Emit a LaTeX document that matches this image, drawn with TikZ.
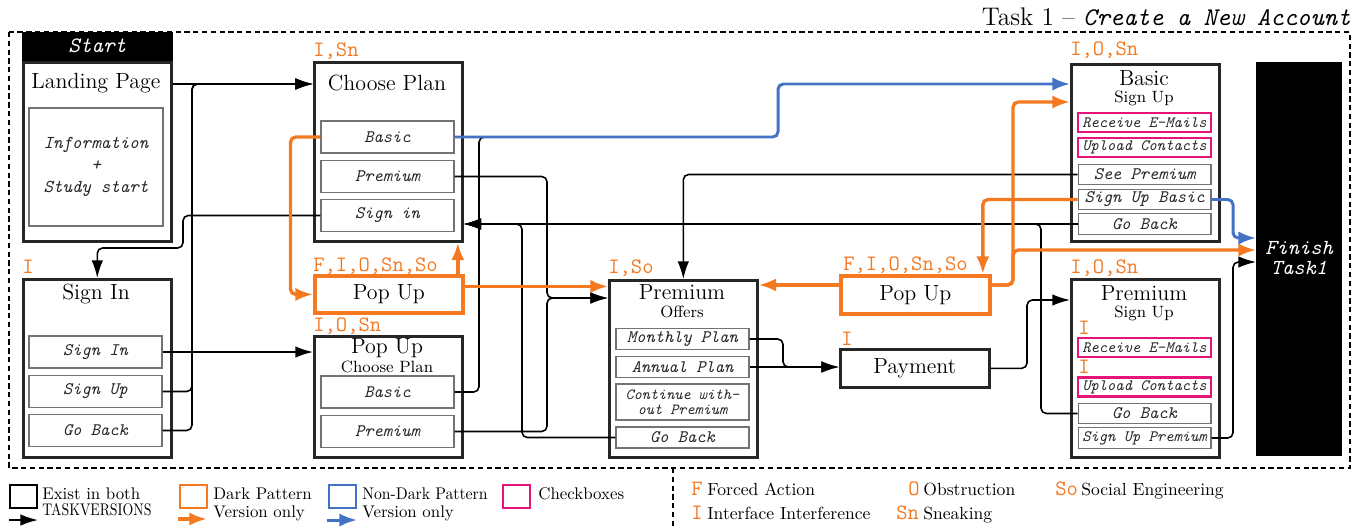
\documentclass[tikz,border=0pt]{standalone}
\usepackage{graphicx}
\usetikzlibrary{calc,arrows.meta}
\definecolor{dporange}{RGB}{244,121,32}
\definecolor{ndblue}{RGB}{68,114,196}
\definecolor{chkpink}{RGB}{230,20,120}
\newcommand{\ttit}{\ttfamily\itshape}
\tikzset{
  screenbox/.style={draw=black!85,line width=1.5pt,minimum width=2.96cm,inner sep=0pt,anchor=north west},
  dpscreen/.style={screenbox,draw=dporange,line width=2.2pt,font=\fontsize{12.5}{14}\selectfont},
  btnbox/.style={draw=black!55,line width=0.6pt,minimum width=2.66cm,inner sep=0pt,text=black!85,font=\ttit\fontsize{10}{12}\selectfont},
  chkbox/.style={btnbox,draw=chkpink,line width=1.3pt,minimum height=0.38cm,font=\ttit\fontsize{9}{11}\selectfont},
  titletext/.style={inner sep=0pt,font=\fontsize{12.5}{14}\selectfont},
  subtext/.style={inner sep=0pt,font=\fontsize{9.3}{11}\selectfont},
  dptag/.style={text=dporange,anchor=base west,inner sep=0pt,font=\ttfamily\fontsize{12.5}{14}\selectfont},
  flowarrow/.style={line width=0.9pt,rounded corners=3pt,-{Latex[length=10pt,width=6.5pt]}},
  dparrow/.style={flowarrow,draw=dporange,line width=1.9pt,-{Latex[length=10pt,width=7.5pt]}},
  ndarrow/.style={flowarrow,draw=ndblue,line width=1.7pt,-{Latex[length=10pt,width=7.5pt]}},
  taskframe/.style={line width=0.8pt,dash pattern=on 3pt off 2pt},
  legbox/.style={minimum width=0.54cm,minimum height=0.46cm,line width=1.5pt,inner sep=0pt},
  legtext/.style={anchor=west,inner sep=0pt,font=\fontsize{9.6}{12}\selectfont}
}
\begin{document}
\begin{tikzpicture}[x=0.02cm,y=-0.02cm]
\useasboundingbox (0,0) rectangle (1364,527);
% frame and title
\draw[taskframe] (9,32) rectangle (1350,468);
\draw[taskframe] (673,468) -- (673,527);
\node[anchor=east,inner sep=0pt,font=\fontsize{14.5}{16}\selectfont] (task) at (1351,17) {Task 1 -- {\ttit Create a New Account}};

% landing page
\node[screenbox,minimum height=3.58cm] (landing) at (22,61) {};
\node[fill=black,text=white,anchor=south,inner sep=0pt,minimum width=3.01cm,minimum height=0.58cm,font=\ttit\fontsize{12.5}{14}\selectfont] (start) at (landing.north) {Start};
\node[titletext] (landingTitle) at (96,83) {Landing Page};
\node[btnbox,minimum width=2.68cm,minimum height=2.36cm,align=center,font=\ttit\fontsize{10.3}{12.5}\selectfont] (info) at (96,167) {Information\\+\\Study start};

% choose plan
\node[screenbox,minimum height=3.58cm] (choose) at (313,61) {};
\node[dptag] (chooseTag) at (313,57) {I,Sn};
\node[titletext] (chooseTitle) at (387,83) {Choose Plan};
\node[btnbox,minimum height=0.64cm] (cpBasic) at (387.5,137) {Basic};
\node[btnbox,minimum height=0.64cm] (cpPrem) at (387.5,176.5) {Premium};
\node[btnbox,minimum height=0.64cm] (cpSign) at (387.5,215.5) {Sign in};

% sign in
\node[screenbox,minimum height=3.56cm] (signin) at (22,278) {};
\node[dptag] (signinTag) at (22,273) {I};
\node[titletext] (signinTitle) at (96,294) {Sign In};
\node[btnbox,minimum height=0.64cm] (siSignin) at (95.5,352) {Sign In};
\node[btnbox,minimum height=0.64cm] (siSignup) at (95.5,391.5) {Sign Up};
\node[btnbox,minimum height=0.64cm] (siGoback) at (95.5,430.5) {Go Back};

% pop ups on the left
\node[dpscreen,minimum height=0.74cm] (popL) at (313,274) {Pop Up};
\node[dptag] (popLTag) at (313,271) {F,I,O,Sn,So};
\node[screenbox,minimum height=2.42cm] (pcp) at (313,335) {};
\node[dptag] (pcpTag) at (313,331) {I,O,Sn};
\node[titletext] (pcpTitle) at (387,348) {Pop Up};
\node[subtext] (pcpSub) at (387,367) {Choose Plan};
\node[btnbox,minimum height=0.64cm] (pcpBasic) at (387.5,392) {Basic};
\node[btnbox,minimum height=0.64cm] (pcpPrem) at (387.5,431.5) {Premium};

% premium offers
\node[screenbox,minimum height=3.54cm] (offers) at (608,279) {};
\node[dptag] (offersTag) at (608,273) {I,So};
\node[titletext] (offersTitle) at (682,292) {Premium};
\node[subtext] (offersSub) at (682,312) {Offers};
\node[btnbox,minimum height=0.42cm] (offMonthly) at (682.5,339) {Monthly Plan};
\node[btnbox,minimum height=0.42cm] (offAnnual) at (682.5,367) {Annual Plan};
\node[btnbox,minimum height=0.72cm,align=center,font=\ttit\fontsize{8.8}{8.4}\selectfont] (offCont) at (682.5,402) {Continue with-\\out Premium};
\node[btnbox,minimum height=0.42cm] (offGoback) at (682.5,437.5) {Go Back};

% pop up and payment
\node[dpscreen,minimum width=2.98cm,minimum height=0.76cm] (popM) at (839,274) {Pop Up};
\node[dptag] (popMTag) at (843,270) {F,I,O,Sn,So};
\node[screenbox,minimum width=2.98cm,minimum height=0.76cm,font=\fontsize{12.5}{14}\selectfont] (payment) at (839,348) {Payment};
\node[dptag] (paymentTag) at (841,345) {I};

% basic sign up
\node[screenbox,minimum height=3.54cm] (bsu) at (1070,63) {};
\node[dptag] (bsuTag) at (1070,56) {I,O,Sn};
\node[titletext] (bsuTitle) at (1144,78) {Basic};
\node[subtext] (bsuSub) at (1144,98) {Sign Up};
\node[chkbox] (bsuMail) at (1144.5,122.5) {Receive E-Mails};
\node[chkbox] (bsuContacts) at (1144.5,147.5) {Upload Contacts};
\node[btnbox,minimum height=0.41cm] (bsuSee) at (1144.5,174.5) {See Premium};
\node[btnbox,minimum height=0.41cm] (bsuSignup) at (1144.5,199.5) {Sign Up Basic};
\node[btnbox,minimum height=0.41cm] (bsuGoback) at (1144.5,224) {Go Back};

% premium sign up
\node[screenbox,minimum height=3.56cm] (psu) at (1070,278) {};
\node[dptag] (psuTag) at (1070,273) {I,O,Sn};
\node[titletext] (psuTitle) at (1144,293) {Premium};
\node[subtext] (psuSub) at (1144,313) {Sign Up};
\node[dptag] (psuMailTag) at (1078,334) {I};
\node[chkbox] (psuMail) at (1144.5,347.5) {Receive E-Mails};
\node[dptag] (psuContactsTag) at (1078,373) {I};
\node[chkbox] (psuContacts) at (1144.5,387) {Upload Contacts};
\node[btnbox,minimum height=0.41cm] (psuGoback) at (1144.5,413.5) {Go Back};
\node[btnbox,minimum height=0.41cm,font=\ttit\fontsize{9}{11}\selectfont] (psuSignup) at (1144.5,438) {Sign Up Premium};

% finish
\node[fill=black,anchor=north west,inner sep=0pt,minimum width=1.72cm,minimum height=7.88cm] (finish) at (1256,62) {};
\node[text=white,align=center,inner sep=0pt,font=\ttit\fontsize{12.2}{11.4}\selectfont] (finishText) at (1299,258) {Finish\\Task1};

% junctions
\coordinate (jUp) at (192,84);
\coordinate (jSi) at (183,248);
\coordinate (jPr) at (547,298);
\coordinate (jBa) at (479,137);
\coordinate (jBl) at (778,84);
\coordinate (jGb) at (522,224);
\coordinate (jPg) at (1041,224);
\coordinate (jOr) at (1013,102);
\coordinate (jOf) at (1013,250);
\coordinate (jBf) at (1233,238);
\coordinate (jPf) at (1233,262);
\coordinate (jPs) at (1027,300);
\coordinate (jMo) at (783,367);
\coordinate (popLup) at ($(popL.north east)+(-7,0)$);
\coordinate (popLout) at ($(popL.east)+(0,-8)$);
\coordinate (popMin) at ($(popM.north east)+(-9,0)$);
\coordinate (popMleft) at ($(popM.west)+(0,-10)$);
\coordinate (popMright) at ($(popM.east)+(0,-10)$);

% black connectors
\draw[flowarrow] (landing.east |- jUp) -- (jUp -| choose.west);
\draw[flowarrow] (siSignup.east) -| (jUp) -- (jUp -| choose.west);
\draw[flowarrow] (siGoback.east) -| (jUp) -- (jUp -| choose.west);
\draw[flowarrow] (cpSign.west) -| (jSi) -| (signin.north);
\draw[flowarrow] (siSignin.east) -- (siSignin.east -| pcp.west);
\draw[flowarrow] (cpPrem.east) -| (jPr) -- (jPr -| offers.west);
\draw[flowarrow] (pcpPrem.east) -| (jPr) -- (jPr -| offers.west);
\draw[line width=0.9pt,rounded corners=3pt] (pcpBasic.east) -| (jBa) -- ++(15,0);
\draw[flowarrow] (offGoback.west) -| (jGb) -- (jGb -| choose.east);
\draw[flowarrow] (bsuGoback.west) -- (bsuGoback.west -| choose.east);
\draw[flowarrow] (psuGoback.west) -| (jPg) -- (jPg -| choose.east);
\draw[flowarrow] (bsuSee.west) -| (offers.north);
\draw[flowarrow] (offMonthly.east) -| (jMo) -- (jMo -| payment.west);
\draw[flowarrow] (offAnnual.east) -- (offAnnual.east -| payment.west);
\draw[flowarrow] (payment.east) -| (jPs) -- (jPs -| psu.west);
\draw[flowarrow] (psuSignup.east) -| (jPf) -- (jPf -| finish.west);

% dark pattern connectors
\draw[dparrow] (cpBasic.west) -- ++(-30,0) |- (popL.west);
\draw[dparrow] (popLup) -- (popLup |- choose.south);
\draw[dparrow] (popLout) -- (popLout -| offers.west);
\draw[dparrow] (bsuSignup.west) -| (popMin);
\draw[dparrow] (popMleft) -- (popMleft -| offers.east);
\draw[dparrow] (popMright) -| (jOr) -- (jOr -| bsu.west);
\draw[dparrow] (popMright) -| (jOf) -- (jOf -| finish.west);

% non-dark pattern connectors
\draw[ndarrow] (cpBasic.east) -| (jBl) -- (jBl -| bsu.west);
\draw[ndarrow] (bsuSignup.east) -| (jBf) -- (jBf -| finish.west);

% legend
\node[legbox,draw=black] (legBoth) at (23.5,496.5) {};
\node[legtext] (legBothA) at (42,494) {Exist in both};
\node[legtext] (legBothB) at (42,510) {\scalebox{0.82}[1]{TASKVERSIONS}};
\coordinate (legBlackA) at (9,520);
\coordinate (legBlackB) at (38,520);
\draw[flowarrow] (legBlackA) -- (legBlackB);
\node[legbox,draw=dporange] (legDark) at (193.5,496.5) {};
\node[legtext] (legDarkA) at (213,494) {Dark Pattern};
\node[legtext] (legDarkB) at (213,513) {Version only};
\coordinate (legDarkC) at (178,519);
\coordinate (legDarkD) at (207,519);
\draw[dparrow] (legDarkC) -- (legDarkD);
\node[legbox,draw=ndblue] (legNon) at (342.5,496.5) {};
\node[legtext] (legNonA) at (362,494) {\scalebox{0.93}[1]{Non-Dark Pattern}};
\node[legtext] (legNonB) at (362,513) {Version only};
\coordinate (legNonC) at (327,520);
\coordinate (legNonD) at (357,520);
\draw[ndarrow] (legNonC) -- (legNonD);
\node[legbox,draw=chkpink] (legChk) at (516.5,496.5) {};
\node[legtext] (legChkA) at (538,494) {Checkboxes};

\node[dptag] (keyF) at (691,495) {F};
\node[legtext,anchor=base west,font=\fontsize{10}{12}\selectfont] (keyFText) at (707,495) {Forced Action};
\node[dptag] (keyI) at (691,519) {I};
\node[legtext,anchor=base west,font=\fontsize{10}{12}\selectfont] (keyIText) at (707,519) {Interface Interference};
\node[dptag] (keyO) at (908,495) {O};
\node[legtext,anchor=base west,font=\fontsize{10}{12}\selectfont] (keyOText) at (923,495) {Obstruction};
\node[dptag] (keySn) at (896,519) {Sn};
\node[legtext,anchor=base west,font=\fontsize{10}{12}\selectfont] (keySnText) at (923,519) {Sneaking};
\node[dptag] (keySo) at (1055,495) {So};
\node[legtext,anchor=base west,font=\fontsize{10}{12}\selectfont] (keySoText) at (1081,495) {Social Engineering};
\end{tikzpicture}
\end{document}
